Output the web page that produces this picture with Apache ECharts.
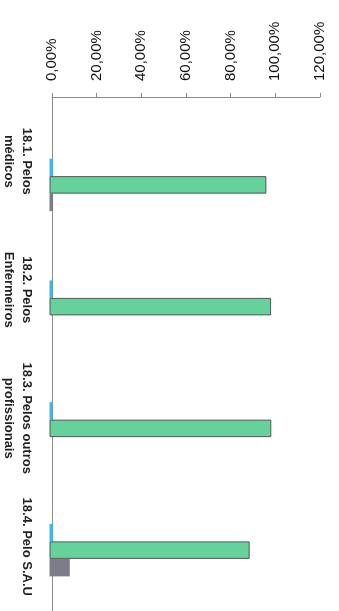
<!DOCTYPE html>
<html>
<head>
<meta charset="utf-8">
<script src="https://cdn.jsdelivr.net/npm/echarts@6/dist/echarts.min.js"></script>
<style>
html,body{margin:0;padding:0;background:#fff;}
#chart{width:339px;height:611px;}
</style>
</head>
<body>
<div id="chart"></div>
<script>
// Data (percent values)
const categories = ['18.1. Pelos\nmédicos', '18.2. Pelos\nEnfermeiros', '18.3. Pelos outros\nprofissionais', '18.4. Pelo S.A.U'];
const seriesBlue = [1.6, 1.4, 1.4, 1.6];
const seriesGreen = [96.2, 98.3, 98.4, 88.8];
const seriesGray = [1.6, 0, 0, 9.0];
const valueTicks = [0, 20, 40, 60, 80, 100, 120];

const fmt = v => v.toFixed(2).replace('.', ',') + '%';
const axisGray = '#8a8a8a';

const chart = echarts.init(document.getElementById('chart'));
chart.setOption({
  animation: false,
  backgroundColor: '#fff',
  grid: [
    {left: 49.5, right: 19, top: 97, height: 524, containLabel: false},
    {left: 49.5, right: 19, top: 124, height: 524, containLabel: false}
  ],
  xAxis: [
    {
      gridIndex: 0, type: 'value', position: 'top',
      min: valueTicks[0], max: valueTicks[valueTicks.length - 1], interval: 20,
      axisLine: {show: true, lineStyle: {color: axisGray, width: 1}},
      axisTick: {show: true, length: 4, inside: false, lineStyle: {color: axisGray}},
      splitLine: {show: false},
      axisLabel: {
        rotate: -90, margin: 16, color: '#111',
        fontFamily: 'Liberation Sans', fontSize: 15,
        formatter: fmt
      }
    },
    {
      gridIndex: 1, type: 'value', show: false,
      min: valueTicks[0], max: valueTicks[valueTicks.length - 1], interval: 20
    }
  ],
  yAxis: [
    {
      gridIndex: 0, type: 'category', inverse: true, data: categories,
      axisLine: {show: true, lineStyle: {color: axisGray, width: 1}},
      axisTick: {show: false},
      splitLine: {show: false},
      axisLabel: {
        rotate: -90, margin: 16, color: '#222',
        fontFamily: 'Liberation Sans', fontWeight: 'bold', fontSize: 13,
        lineHeight: 18, interval: 0
      }
    },
    {
      gridIndex: 1, type: 'category', inverse: true, data: categories, show: false
    }
  ],
  series: [
    {
      type: 'bar', xAxisIndex: 1, yAxisIndex: 1, data: seriesBlue,
      barWidth: 17.5, barGap: '0%',
      itemStyle: {color: '#45b3e6'}
    },
    {
      type: 'bar', xAxisIndex: 1, yAxisIndex: 1, data: seriesGreen,
      barWidth: 17.5, barGap: '0%',
      itemStyle: {color: '#66d19a', borderColor: '#4d5a55', borderWidth: 1}
    },
    {
      type: 'bar', xAxisIndex: 1, yAxisIndex: 1, data: seriesGray,
      barWidth: 17.5, barGap: '0%',
      itemStyle: {color: '#7d7d8a'}
    }
  ]
});
</script>
</body>
</html>
